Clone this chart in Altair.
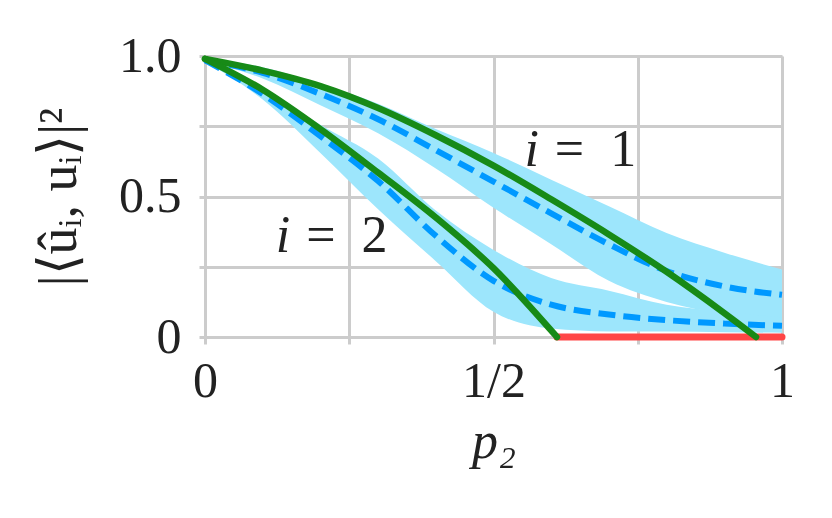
import altair as alt
import pandas as pd

# theory curves (green)
p_th1 = [0.0, 0.1, 0.2, 0.3, 0.4, 0.5, 0.6, 0.7, 0.8, 0.9, 0.955]
v_th1 = [0.99, 0.948, 0.893, 0.815, 0.718, 0.61, 0.49, 0.365, 0.232, 0.085, 0.0]
p_th2 = [0.0, 0.1, 0.2, 0.3, 0.4, 0.5, 0.61]
v_th2 = [0.99, 0.88, 0.74, 0.585, 0.425, 0.245, 0.0]

# empirical mean (dashed) and band
p_emp = [0.0, 0.1, 0.2, 0.3, 0.4, 0.5, 0.6, 0.7, 0.8, 0.9, 1.0]
m_emp1 = [0.985, 0.94, 0.865, 0.775, 0.665, 0.553, 0.44, 0.33, 0.235, 0.18, 0.15]
lo_emp1 = [0.98, 0.92, 0.825, 0.725, 0.6, 0.46, 0.33, 0.2, 0.125, 0.08, 0.04]
hi_emp1 = [0.99, 0.96, 0.9, 0.83, 0.74, 0.655, 0.56, 0.465, 0.37, 0.3, 0.24]

m_emp2 = [0.985, 0.865, 0.715, 0.555, 0.36, 0.2, 0.115, 0.08, 0.06, 0.048, 0.04]
lo_emp2 = [0.98, 0.845, 0.655, 0.455, 0.27, 0.09, 0.03, 0.02, 0.02, 0.017, 0.015]
hi_emp2 = [0.99, 0.885, 0.755, 0.635, 0.45, 0.31, 0.21, 0.165, 0.115, 0.09, 0.07]

# zero segment (red)
p_zero = [0.61, 1.0]
v_zero = [0.0, 0.0]

# labels
lab_series = ["1", "2"]
lab_p = [0.589, 0.158]
lab_v = [0.665, 0.36]

GREEN = "#178a17"
BLUE = "#0099ff"
BAND = "#9de6fc"
RED = "#ff4646"
FONT = "Liberation Serif"
TXT = "#222222"

theory = pd.DataFrame(
    {"p": p_th1 + p_th2, "v": v_th1 + v_th2,
     "s": ["1"] * len(p_th1) + ["2"] * len(p_th2)})
emp = pd.DataFrame(
    {"p": p_emp + p_emp, "m": m_emp1 + m_emp2, "lo": lo_emp1 + lo_emp2,
     "hi": hi_emp1 + hi_emp2,
     "s": ["1"] * len(p_emp) + ["2"] * len(p_emp)})
zero = pd.DataFrame({"p": p_zero, "v": v_zero})
labels = pd.DataFrame({"p": lab_p, "v": lab_v, "s": lab_series,
                       "eq": ["=\u2002" + s for s in lab_series], "i": ["i", "i"]})

xs = alt.Scale(domain=[0, 1], nice=False, zero=False)
ys = alt.Scale(domain=[0, 1], nice=False, zero=False)

x_axis = alt.Axis(
    values=[0, 0.25, 0.5, 0.75, 1],
    labelExpr="datum.value == 0 ? '0' : datum.value == 0.5 ? '1/2' : datum.value == 1 ? '1' : ''",
    title="p₂", titleFont=FONT, titleFontStyle="italic", titleFontSize=52,
    titleFontWeight="normal", titleColor=TXT, titlePadding=10,
    labelFont=FONT, labelFontSize=50, labelColor=TXT, labelPadding=12,
    labelFlush=False,
    grid=True, gridColor="#cccccc", gridWidth=3,
    ticks=True, tickColor="#cccccc", tickWidth=3, tickSize=7, domain=False)
y_axis = alt.Axis(
    values=[0, 0.25, 0.5, 0.75, 1],
    labelExpr="datum.value == 0 ? '0' : datum.value == 0.5 ? '0.5' : datum.value == 1 ? '1.0' : ''",
    title="|⟨ûᵢ, uᵢ⟩|²", titleFont=FONT, titleFontSize=54,
    titleFontWeight="normal", titleColor=TXT, titlePadding=32,
    labelFont=FONT, labelFontSize=50, labelColor=TXT, labelPadding=18,
    labelFlush=False,
    grid=True, gridColor="#cccccc", gridWidth=3,
    ticks=True, tickColor="#cccccc", tickWidth=3, tickSize=6, domain=False)

band = alt.Chart(emp).mark_area(color=BAND, opacity=1, interpolate="monotone").encode(
    x=alt.X("p:Q", scale=xs, axis=x_axis),
    y=alt.Y("lo:Q", scale=ys, axis=y_axis),
    y2="hi:Q",
    detail="s:N",
)
mean = alt.Chart(emp).mark_line(color=BLUE, strokeWidth=6, strokeDash=[17, 8],
                                interpolate="monotone").encode(
    x=alt.X("p:Q", scale=xs), y=alt.Y("m:Q", scale=ys), detail="s:N")
th = alt.Chart(theory).mark_line(color=GREEN, strokeWidth=6.5, strokeCap="round",
                                 interpolate="monotone").encode(
    x=alt.X("p:Q", scale=xs), y=alt.Y("v:Q", scale=ys), detail="s:N")
red = alt.Chart(zero).mark_line(color=RED, strokeWidth=7, strokeCap="round").encode(
    x=alt.X("p:Q", scale=xs), y=alt.Y("v:Q", scale=ys))
lab_i = alt.Chart(labels).mark_text(font=FONT, fontSize=52, fontStyle="italic",
                                    color=TXT, align="right", baseline="middle",
                                    dx=-6).encode(
    x=alt.X("p:Q", scale=xs), y=alt.Y("v:Q", scale=ys), text="i:N")
lab_eq = alt.Chart(labels).mark_text(font=FONT, fontSize=52, color=TXT,
                                     align="left", baseline="middle", dx=10).encode(
    x=alt.X("p:Q", scale=xs), y=alt.Y("v:Q", scale=ys), text="eq:N")

chart = alt.layer(band, mean, red, th, lab_i, lab_eq).properties(
    width=577, height=281,
    autosize=alt.AutoSizeParams(type="none"),
    padding={"left": 197, "top": 48, "right": 30, "bottom": 170},
).configure_view(stroke=None).configure(background="white")

chart.save("out.html", embed_options={"renderer": "svg", "actions": False})
